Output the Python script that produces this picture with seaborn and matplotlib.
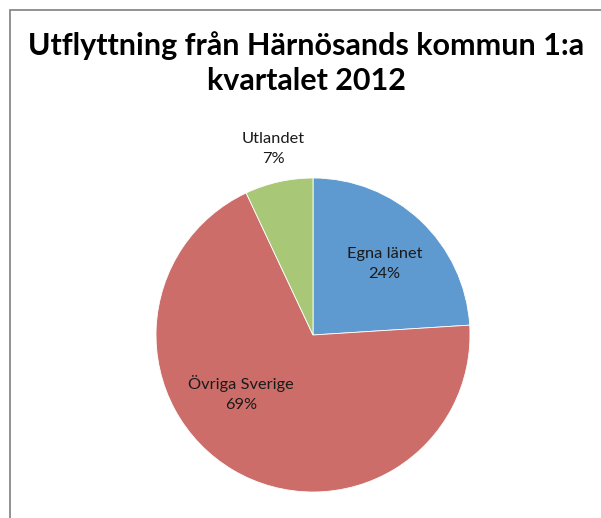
import matplotlib
matplotlib.use("Agg")
import matplotlib.pyplot as plt
import seaborn as sns
import numpy as np
from matplotlib.patches import Rectangle

categories = ["Egna länet", "Övriga Sverige", "Utlandet"]
shares = [24, 69, 7]
pct_labels = ["24%", "69%", "7%"]
title_text = "Utflyttning från Härnösands kommun 1:a\nkvartalet 2012"

sns.set_theme(style="white")
plt.rcParams['font.family'] = ['Lato', 'DejaVu Sans']

colors = sns.color_palette(["#5E9ACF", "#CC6D69", "#A8C878"])

W, H = 601, 518
fig = plt.figure(figsize=(W / 100, H / 100), dpi=100)

# chart frame (extends beyond right and bottom edges)
fig.patches.append(Rectangle((10 / W, -0.05), 1.2, 1 - 10 / H + 0.05,
                             transform=fig.transFigure, fill=False,
                             edgecolor="#7f7f7f", linewidth=1.2))

cx, cy, r = 313, 335, 157
ax = fig.add_axes([(cx - r) / W, (H - cy - r) / H, 2 * r / W, 2 * r / H])
wedges, _ = ax.pie(shares, colors=colors, startangle=90, counterclock=False,
                   wedgeprops=dict(edgecolor="white", linewidth=0.6))
ax.set_xlim(-1, 1)
ax.set_ylim(-1, 1)
ax.set_axis_off()

# label placement (angle in degrees, radius as fraction of pie radius)
placements = [(44.6, 0.64), (219.0, 0.59), (102.0, 1.21)]
for name, pct, (ang, rad) in zip(categories, pct_labels, placements):
    a = np.deg2rad(ang)
    ax.text(rad * np.cos(a), rad * np.sin(a), f"{name}\n{pct}",
            ha="center", va="center", fontsize=11.8, color="#1a1a1a",
            linespacing=1.55)

fig.text(0.5 + 6 / W, 1 - 63 / H, title_text, ha="center", va="center",
         fontsize=22, fontweight="bold", color="black", linespacing=1.32)

fig.savefig("out.png", dpi=100)
